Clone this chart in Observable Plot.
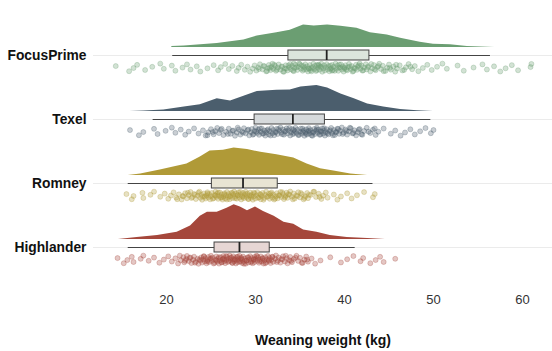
<!DOCTYPE html>
<html>
<head>
<meta charset="utf-8">
<script src="https://cdn.jsdelivr.net/npm/d3@7"></script>
<script src="https://cdn.jsdelivr.net/npm/@observablehq/plot@0.6"></script>
<style>
  html, body { margin: 0; padding: 0; background: #fff; }
  #chart svg { display: block; }
</style>
</head>
<body>
<div id="chart"></div>
<script>
// ---- categories & colours ----
const breeds = ["FocusPrime", "Texel", "Romney", "Highlander"];
const breedColors = ["#6b9e72", "#4b5e6d", "#b09a37", "#a5473b"];
const xTicks = [20, 30, 40, 50, 60];
const xLabel = "Weaning weight (kg)";

// ---- box-plot statistics (kg) ----
const whiskerLow  = [20.7, 18.5, 15.7, 15.7];
const q1          = [33.7, 29.9, 25.1, 25.4];
const median      = [38.0, 34.2, 28.6, 28.2];
const q3          = [42.8, 37.8, 32.5, 31.6];
const whiskerHigh = [56.4, 49.7, 43.2, 41.2];

// ---- density curves (weight kg, density) ----
const focusDensW = [20.6, 22.0, 25.7, 28.7, 30.2, 32.4, 33.9, 35.4, 36.6, 38.1, 39.6, 41.4, 42.9, 44.8, 46.3, 48.5, 50.0, 51.9, 53.8, 56.9];
const focusDensD = [0.0025, 0.004, 0.010, 0.019, 0.029, 0.037, 0.043, 0.056, 0.054, 0.056, 0.053, 0.048, 0.037, 0.031, 0.023, 0.013, 0.008, 0.007, 0.0025, 0];
const texelDensW = [15.9, 17.5, 19.7, 22.0, 23.8, 25.7, 27.2, 28.7, 30.2, 32.4, 33.9, 35.1, 36.9, 38.1, 39.6, 41.1, 42.6, 44.4, 46.3, 48.2, 50.0];
const texelDensD = [0, 0.001, 0.004, 0.011, 0.017, 0.032, 0.026, 0.038, 0.050, 0.053, 0.054, 0.061, 0.065, 0.059, 0.044, 0.032, 0.019, 0.011, 0.005, 0.002, 0];
const romneyDensW = [15.7, 17.1, 19.3, 22.3, 23.8, 24.9, 26.4, 27.6, 29.1, 30.6, 32.4, 34.3, 35.8, 37.3, 38.8, 40.7, 42.6];
const romneyDensD = [0, 0.004, 0.014, 0.029, 0.046, 0.061, 0.063, 0.069, 0.065, 0.058, 0.052, 0.044, 0.029, 0.017, 0.011, 0.004, 0];
const highDensW = [14.6, 16.7, 19.0, 21.2, 22.7, 23.8, 24.6, 25.7, 26.8, 27.6, 28.3, 29.1, 30.0, 30.9, 32.1, 33.2, 34.3, 35.4, 36.9, 38.4, 40.3, 42.6, 44.6];
const highDensD = [0, 0.005, 0.010, 0.018, 0.034, 0.058, 0.068, 0.068, 0.078, 0.087, 0.081, 0.072, 0.081, 0.070, 0.058, 0.043, 0.038, 0.024, 0.018, 0.010, 0.005, 0.0025, 0];

// ---- individual weaning weights (kg) ----
const focusWeights = [14.3, 15.8, 16.3, 16.7, 17.6, 18.4, 19.3, 19.7, 20.6, 21.0, 21.8, 22.3, 22.7, 23.4, 23.8, 24.6, 25.3, 25.8,
  26.1, 26.6, 27.0, 27.4, 27.9, 28.1, 28.4, 28.8, 29.1, 29.4, 29.7, 29.9,
  30.1, 30.3, 30.5, 30.8, 31.0, 31.2, 31.4, 31.5, 31.7, 31.8, 31.9,
  32.0, 32.2, 32.3, 32.5, 32.6, 32.8, 33.0, 33.1, 33.3, 33.4, 33.6, 33.8, 33.9,
  34.0, 34.1, 34.3, 34.4, 34.5, 34.7, 34.8, 34.9, 35.1, 35.2, 35.3, 35.5, 35.6, 35.7, 35.8, 35.9,
  36.0, 36.1, 36.2, 36.4, 36.5, 36.6, 36.7, 36.8, 37.0, 37.1, 37.2, 37.3, 37.5, 37.6, 37.7, 37.8, 37.9,
  38.0, 38.1, 38.2, 38.3, 38.5, 38.6, 38.7, 38.8, 39.0, 39.1, 39.2, 39.3, 39.5, 39.6, 39.7, 39.8, 39.9,
  40.0, 40.1, 40.3, 40.4, 40.5, 40.7, 40.8, 41.0, 41.1, 41.3, 41.4, 41.5, 41.7, 41.8, 41.9,
  42.0, 42.2, 42.4, 42.5, 42.7, 42.9, 43.1, 43.3, 43.5, 43.7, 43.9,
  44.1, 44.3, 44.6, 44.8, 45.0, 45.2, 45.5, 45.7, 45.9,
  46.2, 46.5, 46.9, 47.2, 47.6, 47.9, 48.3, 48.8, 49.3, 49.8, 50.4, 51.0, 51.5, 52.7, 53.4, 54.5, 55.5,
  56.0, 56.8, 57.5, 58.1, 58.8, 59.5, 60.9, 61.0,
  30.4, 30.9, 31.3, 31.6, 32.1, 32.4, 32.9, 33.2, 33.5, 33.7, 34.2, 34.6, 35.0, 35.4, 35.4, 36.3, 36.3, 36.9,
  36.9, 37.4, 37.4, 38.4, 38.4, 38.9, 39.4, 39.4, 40.2, 40.6, 40.9, 41.2, 41.6, 42.1, 42.6, 43.0, 43.4, 43.8,
  44.4, 45.1, 45.8, 46.7, 47.4, 34.3, 36.0, 37.1, 38.6, 40.0];
const texelWeights = [15.9, 16.9, 17.4, 18.6, 19.0, 19.9, 20.6, 21.0, 21.6, 22.1, 22.5, 23.1, 23.6,
  24.1, 24.4, 24.7, 25.0, 25.3, 25.5, 25.7, 25.9,
  26.1, 26.4, 26.7, 27.0, 27.2, 27.5, 27.7, 27.9,
  28.1, 28.3, 28.5, 28.7, 28.9, 29.1, 29.3, 29.5, 29.6, 29.8, 29.9,
  30.0, 30.2, 30.3, 30.4, 30.6, 30.7, 30.8, 31.0, 31.1, 31.2, 31.4, 31.5, 31.6, 31.8, 31.9,
  32.0, 32.1, 32.3, 32.4, 32.5, 32.7, 32.8, 32.9, 33.1, 33.2, 33.3, 33.5, 33.6, 33.7, 33.9,
  34.0, 34.1, 34.2, 34.4, 34.5, 34.6, 34.7, 34.9, 35.0, 35.1, 35.2, 35.4, 35.5, 35.6, 35.7, 35.8, 35.9,
  36.0, 36.1, 36.2, 36.3, 36.5, 36.6, 36.7, 36.8, 36.9, 37.0, 37.1, 37.2, 37.4, 37.5, 37.6, 37.7, 37.8, 37.9,
  38.0, 38.2, 38.3, 38.5, 38.6, 38.8, 38.9, 39.1, 39.2, 39.4, 39.5, 39.7, 39.9,
  40.1, 40.3, 40.5, 40.7, 40.9, 41.1, 41.3, 41.5, 41.7, 41.9,
  42.2, 42.5, 42.9, 43.2, 43.5, 43.8,
  44.4, 45.2, 45.7, 46.3, 46.8, 47.4, 47.9, 48.5, 49.1, 49.7, 50.0,
  24.6, 25.2, 26.2, 26.9, 27.4, 28.0, 28.6, 29.2, 29.7, 30.1, 30.5, 30.9, 31.3, 31.7, 32.2, 32.6, 33.0, 33.4,
  33.8, 34.3, 34.3, 34.8, 35.3, 35.3, 35.7, 36.0, 36.4, 36.4, 36.9, 37.3, 37.3, 37.7, 38.1, 38.4, 38.7, 39.0,
  39.3, 39.8, 40.2, 40.6, 41.0, 41.6, 42.0, 42.7, 43.4];
const romneyWeights = [15.5, 16.1, 16.3, 17.3, 17.4, 18.2, 18.6, 19.3, 19.8,
  20.2, 20.5, 20.8, 21.1, 21.4, 21.7, 21.9,
  22.1, 22.3, 22.5, 22.7, 22.9, 23.1, 23.3, 23.5, 23.6, 23.8, 23.9,
  24.0, 24.1, 24.2, 24.4, 24.5, 24.6, 24.7, 24.8, 24.9, 25.0, 25.1, 25.3, 25.4, 25.5, 25.6, 25.7, 25.8, 25.9,
  26.0, 26.1, 26.2, 26.3, 26.4, 26.5, 26.6, 26.7, 26.8, 26.9, 27.0, 27.1, 27.2, 27.3, 27.4, 27.5, 27.6, 27.7, 27.8, 27.9,
  28.0, 28.1, 28.2, 28.3, 28.4, 28.5, 28.6, 28.7, 28.8, 28.9, 29.0, 29.1, 29.2, 29.3, 29.4, 29.5, 29.6, 29.7, 29.8, 29.9,
  30.0, 30.1, 30.2, 30.4, 30.5, 30.6, 30.7, 30.8, 31.0, 31.1, 31.2, 31.3, 31.5, 31.6, 31.7, 31.8, 31.9,
  32.0, 32.1, 32.3, 32.4, 32.5, 32.7, 32.8, 32.9, 33.1, 33.2, 33.4, 33.5, 33.6, 33.8, 33.9,
  34.1, 34.3, 34.4, 34.6, 34.8, 35.0, 35.2, 35.4, 35.6, 35.8, 35.9,
  36.2, 36.5, 36.8, 37.1, 37.4, 37.6, 37.9,
  38.1, 38.8, 39.2, 39.6, 40.3, 40.8, 41.4, 42.2, 43.2, 43.4,
  21.2, 21.8, 22.4, 22.8, 23.2, 23.7, 24.3, 24.6, 25.2, 25.5, 25.8, 26.2, 26.5, 26.8, 27.1, 27.4, 27.7, 28.0,
  28.3, 28.6, 28.9, 29.2, 29.5, 29.8, 30.3, 30.6, 30.9, 31.4, 31.7, 32.2, 32.6, 33.0, 33.3, 33.7, 34.2, 34.7,
  35.1, 35.5, 36.0, 36.6, 37.2];
const highWeights = [14.5, 15.2, 15.6, 16.1, 16.3, 17.1, 17.4, 18.0, 18.6, 19.2, 19.7,
  20.2, 20.6, 21.0, 21.3, 21.6, 21.9,
  22.0, 22.2, 22.3, 22.5, 22.6, 22.8, 23.0, 23.1, 23.3, 23.5, 23.6, 23.8, 23.9,
  24.0, 24.1, 24.2, 24.3, 24.4, 24.5, 24.6, 24.7, 24.8, 24.9, 25.0, 25.1, 25.2, 25.4, 25.5, 25.6, 25.7, 25.8, 25.9,
  26.0, 26.1, 26.2, 26.3, 26.4, 26.5, 26.5, 26.6, 26.7, 26.8, 26.9, 27.0, 27.1, 27.2, 27.3, 27.4, 27.5, 27.5, 27.6, 27.7, 27.8, 27.9, 27.9,
  28.0, 28.1, 28.2, 28.3, 28.4, 28.5, 28.5, 28.6, 28.7, 28.8, 28.9, 29.0, 29.1, 29.2, 29.3, 29.4, 29.5, 29.6, 29.7, 29.8, 29.9, 29.9,
  30.0, 30.1, 30.2, 30.3, 30.4, 30.5, 30.6, 30.7, 30.8, 30.9, 31.0, 31.1, 31.2, 31.3, 31.4, 31.5, 31.6, 31.7, 31.8, 31.9,
  32.0, 32.2, 32.3, 32.5, 32.6, 32.8, 33.0, 33.1, 33.3, 33.5, 33.6, 33.8, 33.9,
  34.1, 34.3, 34.6, 34.8, 35.0, 35.3, 35.5, 35.7, 35.9,
  36.3, 36.7, 37.3, 38.4, 39.6, 40.3, 41.0, 41.8, 42.1, 42.9, 43.5, 44.0, 44.4, 45.7,
  21.5, 22.1, 22.7, 23.2, 23.7, 24.2, 24.6, 25.0, 25.3, 25.6, 25.9, 26.2, 26.4, 26.7, 27.0, 27.2, 27.4, 27.7,
  28.0, 28.2, 28.4, 28.7, 29.0, 29.2, 29.5, 29.8, 30.2, 30.5, 30.8, 31.1, 31.5, 31.9, 32.4, 32.9, 33.4, 34.0,
  34.5, 35.2, 35.8];

// ---- build tables ----
const densW = [focusDensW, texelDensW, romneyDensW, highDensW];
const densD = [focusDensD, texelDensD, romneyDensD, highDensD];
const weights = [focusWeights, texelWeights, romneyWeights, highWeights];

const densityRows = breeds.flatMap((b, i) => densW[i].map((w, k) => ({breed: b, idx: i, wt: w, d: densD[i][k]})));
const pointRows = breeds.flatMap((b, i) => weights[i].map((w, k) => ({breed: b, idx: i, wt: w, k})));
const boxRows = breeds.map((b, i) => ({breed: b, idx: i, lo: whiskerLow[i], q1: q1[i], med: median[i], q3: q3[i], hi: whiskerHigh[i]}));

// layout constants (in band units; one band = one breed)
const densBase = 0.125, densScale = 6.25, boxHalf = 0.078;
const jitterLo = 0.125, jitterSpan = 0.13;
const jitter = k => jitterLo + jitterSpan * ((k * 0.6180339887 + 0.31) % 1);

const colorOf = i => breedColors[i];
const boxFill = i => d3.interpolateRgb("#f3f3f3", breedColors[i])(0.17);

const chart = Plot.plot({
  width: 552,
  height: 351,
  marginLeft: 93,
  marginRight: 0,
  marginTop: 7,
  marginBottom: 65.6,
  style: {fontFamily: "'Liberation Sans', Arial, sans-serif", background: "#fff"},
  x: {domain: [11.8, 63.37]},
  y: {domain: [-0.75, 3.6], reverse: true},
  marks: [
    Plot.ruleY([0, 1, 2, 3], {stroke: "#ebebeb", strokeWidth: 1}),
    Plot.areaY(densityRows, {
      x: "wt",
      y1: d => d.idx - densBase,
      y2: d => d.idx - densBase - d.d * densScale,
      z: "breed",
      fill: d => colorOf(d.idx)
    }),
    Plot.dot(pointRows, {
      x: "wt",
      y: d => d.idx + jitter(d.k),
      r: 2.5,
      fill: d => colorOf(d.idx),
      fillOpacity: 0.3,
      stroke: d => colorOf(d.idx),
      strokeOpacity: 0.36,
      strokeWidth: 0.8
    }),
    Plot.ruleY(boxRows, {y: "idx", x1: "lo", x2: "hi", stroke: "#444", strokeWidth: 1}),
    Plot.rect(boxRows, {
      x1: "q1", x2: "q3",
      y1: d => d.idx - boxHalf, y2: d => d.idx + boxHalf,
      fill: d => boxFill(d.idx),
      stroke: "#444", strokeWidth: 1
    }),
    Plot.ruleX(boxRows, {x: "med", y1: d => d.idx - boxHalf, y2: d => d.idx + boxHalf, stroke: "#222", strokeWidth: 1.8}),
    Plot.axisY([0, 1, 2, 3], {
      tickFormat: d => breeds[d],
      tickSize: 0, tickPadding: 7,
      fontSize: 13.8, fontWeight: "bold", fill: "#111",
      label: null
    }),
    Plot.axisX(xTicks, {
      tickSize: 0, tickPadding: 9,
      fontSize: 13, fill: "#333",
      label: null
    }),
    Plot.text([xLabel], {
      frameAnchor: "bottom", dy: 55, lineAnchor: "middle",
      fontSize: 14, fontWeight: "bold", fill: "#111"
    })
  ]
});
document.getElementById("chart").appendChild(chart);
</script>
</body>
</html>
